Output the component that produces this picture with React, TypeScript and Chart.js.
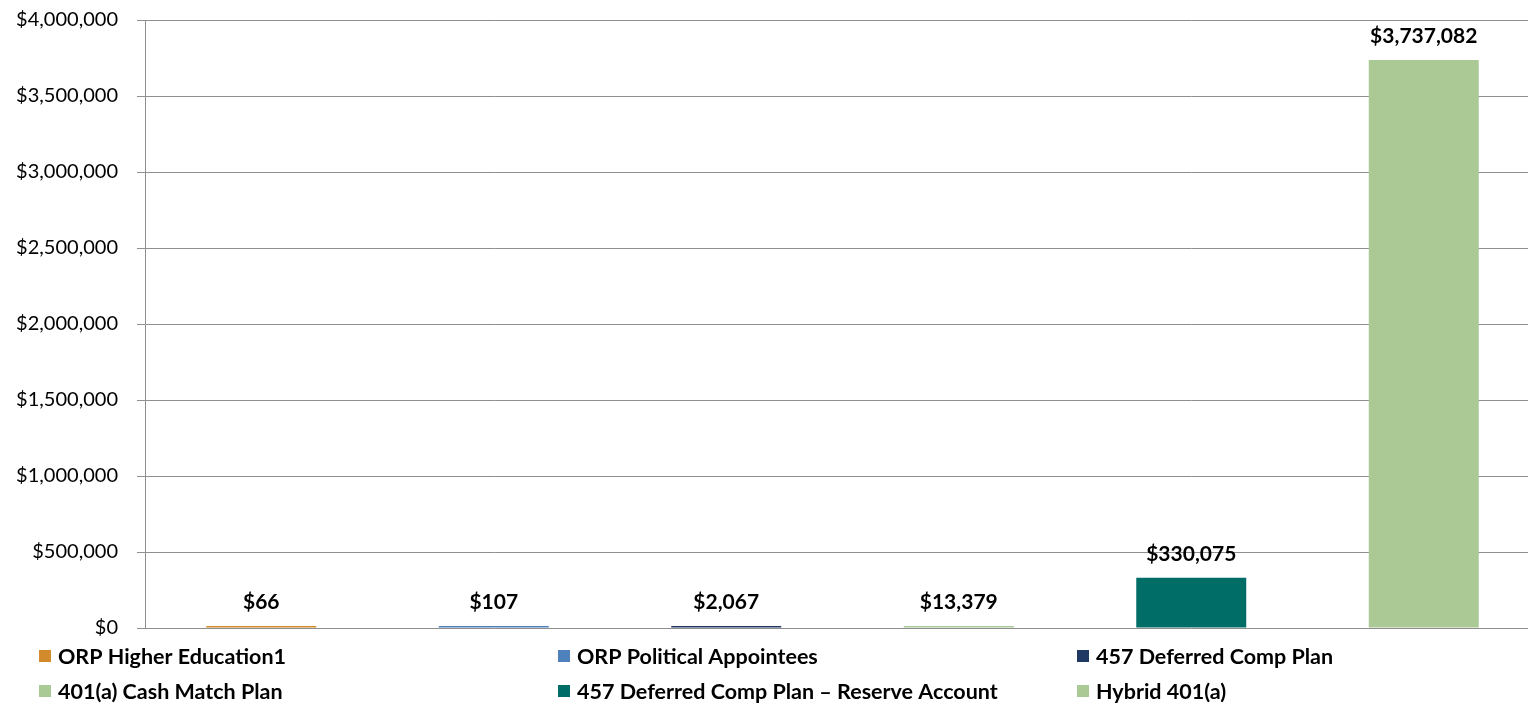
import React, { useEffect, useRef } from "react";
import { Chart, registerables } from "chart.js";

Chart.register(...registerables);

const categories = [
  "ORP Higher Education1",
  "ORP Political Appointees",
  "457 Deferred Comp Plan",
  "401(a) Cash Match Plan",
  "457 Deferred Comp Plan – Reserve Account",
  "Hybrid 401(a)",
];
const values = [66, 107, 2067, 13379, 330075, 3737082];
const colors = ["#D18B2D", "#4F81BD", "#1F3864", "#A9C995", "#006D66", "#ABC995"];
const yTicks = [0, 500000, 1000000, 1500000, 2000000, 2500000, 3000000, 3500000, 4000000];

const FONT = "Lato, 'Liberation Sans', sans-serif";
const fmt = (v: number) => "$" + v.toLocaleString("en-US");

const dataLabelPlugin = {
  id: "dataLabels",
  afterDatasetsDraw(chart: any) {
    const ctx = chart.ctx;
    ctx.save();
    ctx.font = `bold 21px ${FONT}`;
    ctx.fillStyle = "#000";
    ctx.textAlign = "center";
    ctx.textBaseline = "middle";
    chart.data.datasets.forEach((ds: any, i: number) => {
      const meta = chart.getDatasetMeta(i);
      meta.data.forEach((el: any, j: number) => {
        const v = ds.data[j];
        if (v == null) return;
        ctx.fillText(fmt(v), el.x, el.y - 24);
      });
    });
    ctx.restore();
  },
};

const gridLegendPlugin = {
  id: "gridLegend",
  afterDraw(chart: any) {
    const ctx = chart.ctx;
    const cols = [39, 558, 1077];
    const rows = [656, 691];
    ctx.save();
    ctx.font = `bold 21.5px ${FONT}`;
    ctx.textBaseline = "middle";
    ctx.textAlign = "left";
    chart.data.datasets.forEach((ds: any, i: number) => {
      const x = cols[i % 3];
      const y = rows[Math.floor(i / 3)];
      ctx.fillStyle = ds.backgroundColor;
      ctx.fillRect(x, y - 6, 12, 12);
      ctx.fillStyle = "#000";
      ctx.fillText(ds.label, x + 19, y + 1);
    });
    ctx.restore();
  },
};

export default function App() {
  const ref = useRef<HTMLCanvasElement>(null);
  useEffect(() => {
    if (!ref.current) return;
    const datasets = categories.map((label, i) => ({
      label,
      data: values.map((v, j) => (j === i ? v : null)),
      backgroundColor: colors[i],
      borderWidth: 0,
      minBarLength: 2,
      grouped: false,
      barPercentage: 0.473,
      categoryPercentage: 1,
    }));
    const chart = new Chart(ref.current, {
      type: "bar",
      data: { labels: categories, datasets },
      options: {
        animation: false,
        responsive: false,
        devicePixelRatio: 1,
        layout: { padding: { left: 0, right: 0, top: 20, bottom: 78 } },
        plugins: { legend: { display: false }, tooltip: { enabled: false } },
        scales: {
          x: { display: false },
          y: {
            min: 0,
            max: 4000000,
            afterBuildTicks: (scale: any) => {
              scale.ticks = yTicks.map((v) => ({ value: v }));
            },
            afterFit: (scale: any) => {
              scale.width = 145;
              scale.paddingTop = 0;
              scale.paddingBottom = 0;
            },
            grid: { color: "#8f8f8f", lineWidth: 1, tickLength: 8, drawTicks: true },
            border: { color: "#8f8f8f", width: 1 },
            ticks: {
              padding: 19,
              color: "#000",
              font: { family: FONT, size: 20 },
              callback: (v: any) => fmt(Number(v)),
            },
          },
        },
      },
      plugins: [dataLabelPlugin, gridLegendPlugin],
    });
    return () => chart.destroy();
  }, []);
  return (
    <div style={{ position: "absolute", left: 0, top: 0, width: 1528, height: 706, overflow: "hidden", background: "#fff" }}>
      <canvas ref={ref} width={1540} height={706} style={{ display: "block" }} />
    </div>
  );
}
